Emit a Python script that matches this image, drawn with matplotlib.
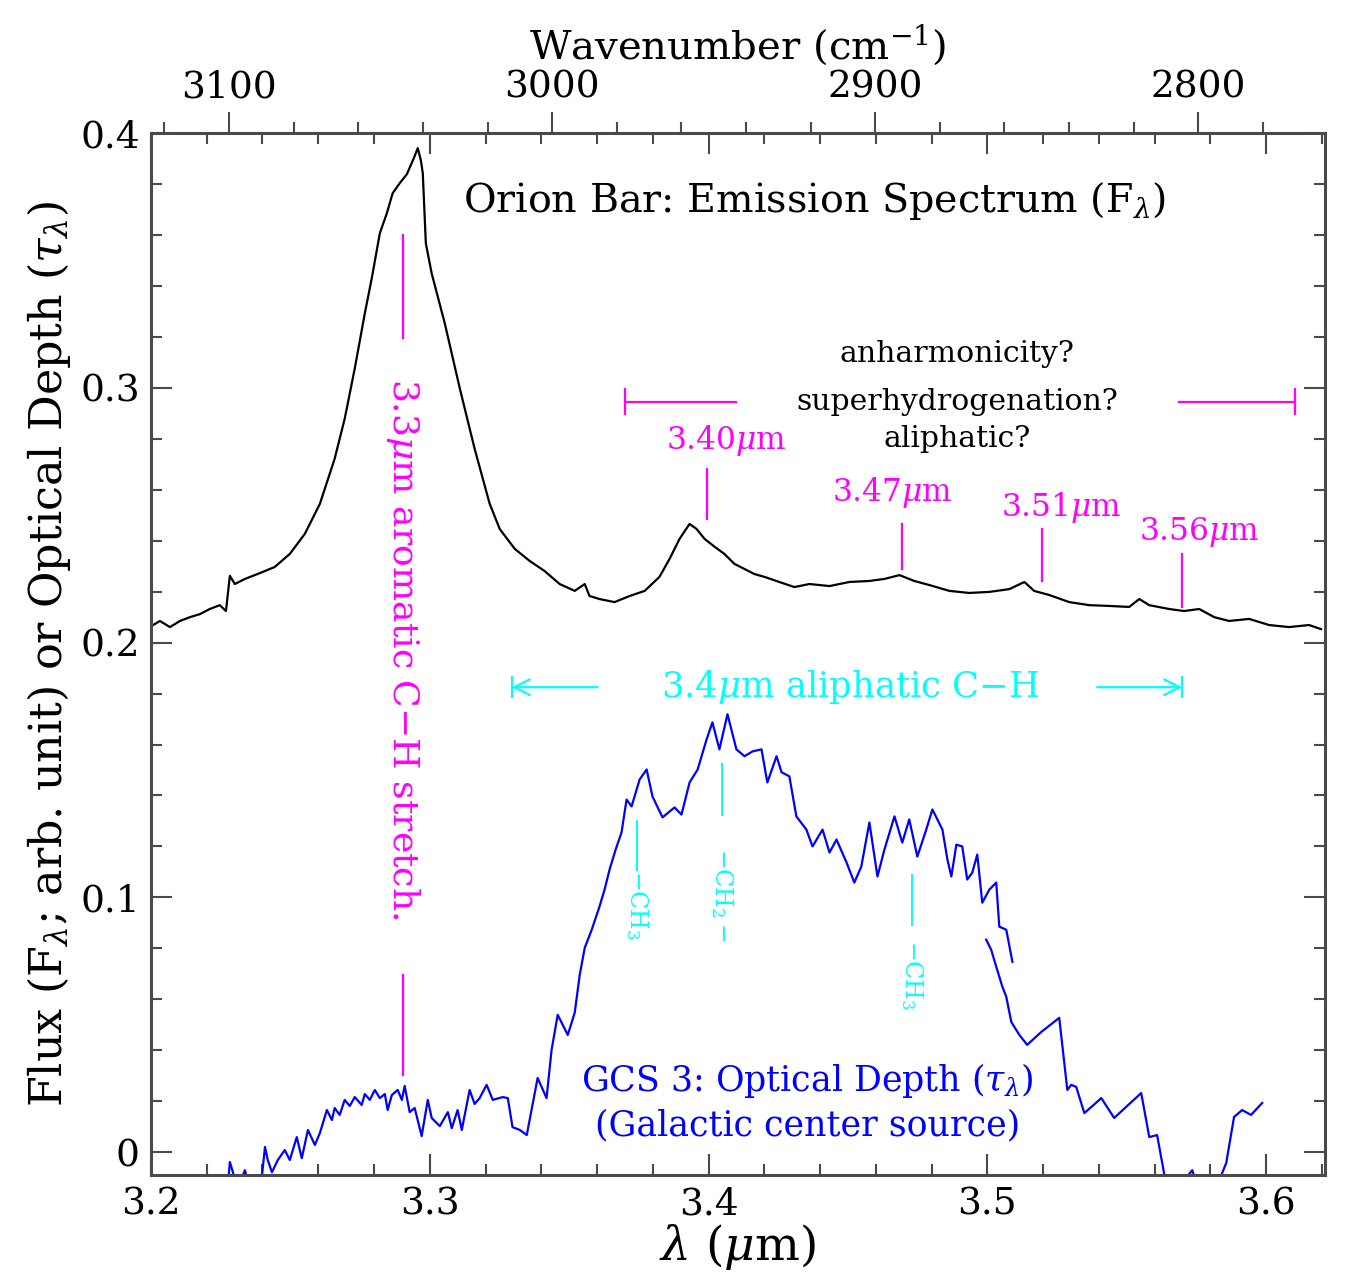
import matplotlib
matplotlib.use("Agg")
import matplotlib.pyplot as plt
from matplotlib.ticker import MultipleLocator

plt.rcParams['font.family'] = ['DejaVu Serif']
plt.rcParams['mathtext.fontset'] = 'dejavuserif'

# Orion Bar emission spectrum (black)
orion_lam = [3.1996, 3.2032, 3.2068, 3.2104, 3.2140, 3.2176, 3.2211, 3.2247, 3.2269, 3.2283,
             3.2301, 3.2337, 3.2391, 3.2444, 3.2498, 3.2552, 3.2606, 3.2659, 3.2695, 3.2731,
             3.2767, 3.2792, 3.2821, 3.2846, 3.2867, 3.2892, 3.2918, 3.2943, 3.2957, 3.2968,
             3.2975, 3.2986, 3.3007, 3.3054, 3.3108, 3.3161, 3.3215, 3.3251, 3.3305, 3.3358,
             3.3412, 3.3466, 3.3520, 3.3556, 3.3573, 3.3609, 3.3663, 3.3717, 3.3771, 3.3824,
             3.3860, 3.3896, 3.3932, 3.3957, 3.3986, 3.4022, 3.4057, 3.4093, 3.4129, 3.4165,
             3.4201, 3.4254, 3.4308, 3.4362, 3.4434, 3.4505, 3.4577, 3.4631, 3.4685, 3.4738,
             3.4792, 3.4864, 3.4935, 3.5007, 3.5079, 3.5133, 3.5168, 3.5222, 3.5294, 3.5366,
             3.5437, 3.5509, 3.5545, 3.5581, 3.5652, 3.5706, 3.5760, 3.5814, 3.5867, 3.5939,
             3.6011, 3.6082, 3.6154, 3.6197]
orion_flux = [0.2061, 0.2085, 0.2061, 0.2085, 0.2100, 0.2112, 0.2132, 0.2147, 0.2124, 0.2262,
              0.2230, 0.2250, 0.2273, 0.2297, 0.2348, 0.2427, 0.2545, 0.2722, 0.2879, 0.3076,
              0.3292, 0.3430, 0.3607, 0.3685, 0.3764, 0.3803, 0.3839, 0.3902, 0.3941, 0.3894,
              0.3843, 0.3567, 0.3449, 0.3253, 0.2997, 0.2761, 0.2545, 0.2446, 0.2368, 0.2321,
              0.2281, 0.2230, 0.2203, 0.2230, 0.2183, 0.2171, 0.2159, 0.2183, 0.2203, 0.2258,
              0.2328, 0.2407, 0.2466, 0.2446, 0.2407, 0.2376, 0.2348, 0.2309, 0.2289, 0.2269,
              0.2258, 0.2238, 0.2218, 0.2230, 0.2222, 0.2238, 0.2242, 0.2250, 0.2265, 0.2242,
              0.2226, 0.2203, 0.2195, 0.2199, 0.2210, 0.2238, 0.2203, 0.2187, 0.2159, 0.2147,
              0.2144, 0.2140, 0.2171, 0.2147, 0.2132, 0.2124, 0.2132, 0.2100, 0.2085, 0.2093,
              0.2069, 0.2061, 0.2069, 0.2053]

# GCS 3 optical depth (blue), first piece
gcs_lam_a = [3.2276, 3.2283, 3.2294, 3.2312, 3.2337, 3.2348, 3.2373, 3.2398, 3.2409, 3.2419,
             3.2434, 3.2455, 3.2480, 3.2498, 3.2523, 3.2541, 3.2563, 3.2588, 3.2606, 3.2631,
             3.2649, 3.2659, 3.2677, 3.2695, 3.2713, 3.2731, 3.2756, 3.2767, 3.2785, 3.2803,
             3.2821, 3.2839, 3.2849, 3.2864, 3.2885, 3.2900, 3.2910, 3.2928, 3.2946, 3.2971,
             3.2993, 3.3007, 3.3036, 3.3065, 3.3079, 3.3100, 3.3115, 3.3143, 3.3161, 3.3179,
             3.3204, 3.3226, 3.3262, 3.3280, 3.3297, 3.3323, 3.3348, 3.3387, 3.3419, 3.3437,
             3.3459, 3.3495, 3.3520, 3.3538, 3.3556, 3.3581, 3.3609, 3.3627, 3.3645, 3.3667,
             3.3688, 3.3706, 3.3724, 3.3753, 3.3778, 3.3799, 3.3835, 3.3878, 3.3903, 3.3932,
             3.3961, 3.3993, 3.4014, 3.4039, 3.4068, 3.4100, 3.4129, 3.4158, 3.4190, 3.4211,
             3.4244, 3.4262, 3.4290, 3.4315, 3.4351, 3.4373, 3.4409, 3.4434, 3.4459, 3.4495,
             3.4523, 3.4548, 3.4577, 3.4606, 3.4631, 3.4667, 3.4695, 3.4720, 3.4749, 3.4781,
             3.4803, 3.4839, 3.4857, 3.4871, 3.4889, 3.4910, 3.4928, 3.4946, 3.4964, 3.4982,
             3.5007, 3.5032, 3.5043, 3.5068, 3.5090]
gcs_tau_a = [-0.0130, -0.0039, -0.0079, -0.0142, -0.0071, -0.0118, -0.0149, -0.0094, 0.0020, -0.0031,
             -0.0079, -0.0031, 0.0008, -0.0031, 0.0059, -0.0024, 0.0087, 0.0028, 0.0075, 0.0165,
             0.0126, 0.0173, 0.0146, 0.0205, 0.0181, 0.0216, 0.0185, 0.0228, 0.0205, 0.0244,
             0.0212, 0.0228, 0.0165, 0.0224, 0.0244, 0.0205, 0.0260, 0.0157, 0.0173, 0.0063,
             0.0205, 0.0134, 0.0102, 0.0157, 0.0094, 0.0165, 0.0087, 0.0244, 0.0189, 0.0212,
             0.0264, 0.0205, 0.0216, 0.0212, 0.0098, 0.0087, 0.0067, 0.0291, 0.0212, 0.0401,
             0.0539, 0.0460, 0.0547, 0.0696, 0.0802, 0.0873, 0.0964, 0.1030, 0.1109, 0.1188,
             0.1255, 0.1384, 0.1357, 0.1463, 0.1502, 0.1396, 0.1314, 0.1353, 0.1325, 0.1451,
             0.1502, 0.1620, 0.1687, 0.1581, 0.1719, 0.1581, 0.1554, 0.1573, 0.1581, 0.1451,
             0.1554, 0.1491, 0.1475, 0.1318, 0.1266, 0.1200, 0.1266, 0.1176, 0.1227, 0.1137,
             0.1058, 0.1121, 0.1294, 0.1082, 0.1188, 0.1318, 0.1215, 0.1306, 0.1160, 0.1266,
             0.1345, 0.1266, 0.1148, 0.1082, 0.1207, 0.1200, 0.1070, 0.1097, 0.1168, 0.0979,
             0.1030, 0.1058, 0.0885, 0.0873, 0.0747]

# GCS 3 optical depth (blue), second piece
gcs_lam_b = [3.4996, 3.5014, 3.5032, 3.5054, 3.5068, 3.5086, 3.5115, 3.5143, 3.5194, 3.5258,
             3.5287, 3.5301, 3.5319, 3.5348, 3.5409, 3.5455, 3.5552, 3.5581, 3.5609, 3.5642,
             3.5670, 3.5713, 3.5735, 3.5753, 3.5796, 3.5832, 3.5857, 3.5885, 3.5914, 3.5946,
             3.5986]
gcs_tau_b = [0.0834, 0.0794, 0.0728, 0.0649, 0.0610, 0.0511, 0.0460, 0.0421, 0.0472, 0.0527,
             0.0244, 0.0264, 0.0256, 0.0153, 0.0212, 0.0134, 0.0232, 0.0059, 0.0067, -0.0130,
             -0.0208, -0.0102, -0.0071, -0.0130, -0.0189, -0.0110, -0.0043, 0.0138, 0.0165, 0.0146,
             0.0193]

# feature labels on the Orion spectrum
feat_labels = ["3.40$\\mu$m", "3.47$\\mu$m", "3.51$\\mu$m", "3.56$\\mu$m"]
feat_text_x = [3.4065, 3.4659, 3.5265, 3.5760]
feat_text_y = [0.2793, 0.2588, 0.2529, 0.2435]
feat_line_x = [3.3996, 3.4695, 3.5197, 3.5699]
feat_line_top = [0.2682, 0.2466, 0.2446, 0.2348]
feat_line_bot = [0.2486, 0.2289, 0.2242, 0.2140]

# group labels on the GCS 3 curve
grp_labels = ["$-$CH$_3$", "$-$CH$_2-$", "$-$CH$_3$"]
grp_x = [3.3742, 3.4047, 3.4731]
grp_line_top = [0.1298, 0.1522, 0.1089]
grp_line_bot = [0.1109, 0.1325, 0.0893]
grp_text_y = [0.0971, 0.1011, 0.0696]

magenta = '#ff00ff'
cyan = '#00ffff'
blue = '#0000ff'
frame = '#4a4a4a'

fig = plt.figure(figsize=(13.6, 12.8), dpi=100)
ax = fig.add_axes([0.111, 0.082, 0.863, 0.814])

ax.plot(orion_lam, orion_flux, color='black', lw=1.6)
ax.plot(gcs_lam_a, gcs_tau_a, color=blue, lw=1.6)
ax.plot(gcs_lam_b, gcs_tau_b, color=blue, lw=1.6)

ax.set_xlim(3.2, 3.621)
ax.set_ylim(-0.009, 0.4)

# 3.3 micron aromatic band
ax.plot([3.2903, 3.2903], [0.3599, 0.3194], color=magenta, lw=1.6)
ax.plot([3.2903, 3.2903], [0.0696, 0.0303], color=magenta, lw=1.6)
ax.text(3.2903, 0.1974, "3.3$\\mu$m aromatic C$-$H stretch.", color=magenta,
        rotation=-90, ha='center', va='center', fontsize=26)

ax.text(3.4380, 0.3733, "Orion Bar: Emission Spectrum (F$_\\lambda$)", color='black',
        ha='center', va='center', fontsize=28.5)

# plateau bracket
ax.plot([3.3699, 3.4100], [0.2946, 0.2946], color=magenta, lw=1.6)
ax.plot([3.5688, 3.6104], [0.2946, 0.2946], color=magenta, lw=1.6)
ax.plot([3.3699, 3.3699], [0.2896, 0.2996], color=magenta, lw=1.6)
ax.plot([3.6104, 3.6104], [0.2896, 0.2996], color=magenta, lw=1.6)
ax.text(3.4892, 0.3131, "anharmonicity?", ha='center', va='center', fontsize=21.5)
ax.text(3.4892, 0.2946, "superhydrogenation?", ha='center', va='center', fontsize=21.5)
ax.text(3.4892, 0.2800, "aliphatic?", ha='center', va='center', fontsize=21.5)

for i in range(len(feat_labels)):
    ax.plot([feat_line_x[i], feat_line_x[i]], [feat_line_top[i], feat_line_bot[i]],
            color=magenta, lw=1.6)
    ax.text(feat_text_x[i], feat_text_y[i], feat_labels[i], color=magenta,
            ha='center', va='center', fontsize=22.5)

# aliphatic band arrows
ax.text(3.4509, 0.1825, "3.4$\\mu$m aliphatic C$-$H", color=cyan,
        ha='center', va='center', fontsize=25.5)
ax.annotate("", xy=(3.3294, 0.1825), xytext=(3.3602, 0.1825),
            arrowprops=dict(arrowstyle='->', color=cyan, lw=1.6,
                            mutation_scale=28, shrinkA=0, shrinkB=0))
ax.annotate("", xy=(3.5699, 0.1825), xytext=(3.5394, 0.1825),
            arrowprops=dict(arrowstyle='->', color=cyan, lw=1.6,
                            mutation_scale=28, shrinkA=0, shrinkB=0))
ax.plot([3.3294, 3.3294], [0.1785, 0.1865], color=cyan, lw=1.6)
ax.plot([3.5699, 3.5699], [0.1785, 0.1865], color=cyan, lw=1.6)

for i in range(len(grp_labels)):
    ax.plot([grp_x[i], grp_x[i]], [grp_line_top[i], grp_line_bot[i]], color=cyan, lw=1.4)
    ax.text(grp_x[i], grp_text_y[i], grp_labels[i], color=cyan, rotation=-90,
            ha='center', va='center', fontsize=17)

ax.text(3.4355, 0.0283, "GCS 3: Optical Depth ($\\tau_\\lambda$)", color=blue,
        ha='center', va='center', fontsize=25)
ax.text(3.4355, 0.0106, "(Galactic center source)", color=blue,
        ha='center', va='center', fontsize=25)

# axes, ticks and labels
ax.xaxis.set_minor_locator(MultipleLocator(0.02))
ax.yaxis.set_minor_locator(MultipleLocator(0.02))
ax.set_yticks([0, 0.1, 0.2, 0.3, 0.4])
ax.set_yticklabels(["0", "0.1", "0.2", "0.3", "0.4"])
ax.set_xticks([3.2, 3.3, 3.4, 3.5, 3.6])
ax.set_xticklabels(["3.2", "3.3", "3.4", "3.5", "3.6"])
ax.tick_params(which='both', direction='in', top=True, right=True, color=frame, width=1.5)
ax.tick_params(which='major', length=15, labelsize=27, pad=8)
ax.tick_params(which='minor', length=8)
for s in ax.spines.values():
    s.set_color(frame)
    s.set_linewidth(2.2)

ax.set_xlabel("$\\lambda$ ($\\mu$m)", fontsize=34, labelpad=0)
ax.set_ylabel("Flux (F$_\\lambda$; arb. unit) or Optical Depth ($\\tau_\\lambda$)",
              fontsize=32, labelpad=5)


# top axis: wavenumber, as drawn in the reference (linear in cm^-1)
def lam2wn(l):
    return 3100 - (l - 3.2280) / 0.001159


def wn2lam(w):
    return 3.2280 + (3100 - w) * 0.001159


sec = ax.secondary_xaxis('top', functions=(lam2wn, wn2lam))
sec.set_xticks([3100, 3000, 2900, 2800])
sec.xaxis.set_minor_locator(MultipleLocator(20))
sec.tick_params(which='both', direction='out', color=frame, width=1.5)
sec.tick_params(which='major', length=15, labelsize=27, pad=5)
sec.tick_params(which='minor', length=8)
sec.spines['top'].set_visible(False)
sec.set_xlabel("Wavenumber (cm$^{-1}$)", fontsize=29, labelpad=8)

fig.savefig("out.png", dpi=100)
